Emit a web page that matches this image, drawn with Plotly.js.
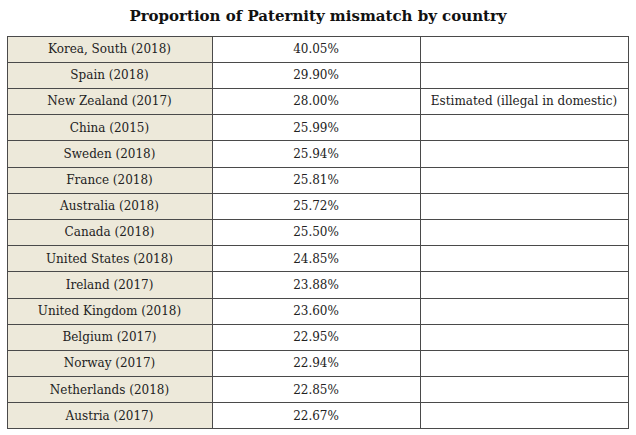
<!DOCTYPE html>
<html><head><meta charset="utf-8">
<script src="https://cdn.plot.ly/plotly-3.0.1.min.js"></script>
<style>html,body{margin:0;padding:0;background:#fff;}#chart{width:636px;height:435px;}</style>
</head><body><div id="chart"></div>
<script>
const countries = ["Korea, South (2018)","Spain (2018)","New Zealand (2017)","China (2015)","Sweden (2018)","France (2018)","Australia (2018)","Canada (2018)","United States (2018)","Ireland (2017)","United Kingdom (2018)","Belgium (2017)","Norway (2017)","Netherlands (2018)","Austria (2017)"];
const values = [40.05,29.90,28.00,25.99,25.94,25.81,25.72,25.50,24.85,23.88,23.60,22.95,22.94,22.85,22.67];
const notes = ["","","Estimated (illegal in domestic)","","","","","","","","","","","",""];

const W = 636, H = 435;
const valueText = values.map(v => v.toFixed(2) + "%");
const n = countries.length;
const rowH = 26.2;
const lineStyle = {color: "#4a4a4a", width: 1};
const fontStyle = {family: "DejaVu Serif, serif", size: 12, color: "#222222"};
const colFill = ["#ede9da", "#ffffff", "#ffffff"];
const trace = {
  type: "table",
  domain: {x: [7/W, 628/W], y: [1 - 430/H, 1 - 36/H]},
  columnwidth: [205, 208, 208],
  header: {
    values: [[countries[0]], [valueText[0]], [notes[0]]],
    height: rowH,
    align: ["center","center","center"],
    fill: {color: colFill},
    line: lineStyle,
    font: fontStyle
  },
  cells: {
    values: [countries.slice(1), valueText.slice(1), notes.slice(1)],
    height: rowH,
    align: ["center","center","center"],
    fill: {color: colFill.map(c => Array(n - 1).fill(c))},
    line: lineStyle,
    font: fontStyle
  }
};
const layout = {
  width: W, height: H,
  margin: {l: 0, r: 0, t: 0, b: 0},
  paper_bgcolor: "#ffffff",
  title: {text: "<b>Proportion of Paternity mismatch by country</b>", x: 0.5, xanchor: "center", y: 1 - 16/H, yanchor: "middle", yref: "container",
    font: {family: "DejaVu Serif, serif", size: 15, color: "#111111"}}
};
Plotly.newPlot("chart", [trace], layout, {staticPlot: true, displayModeBar: false});
</script></body></html>
